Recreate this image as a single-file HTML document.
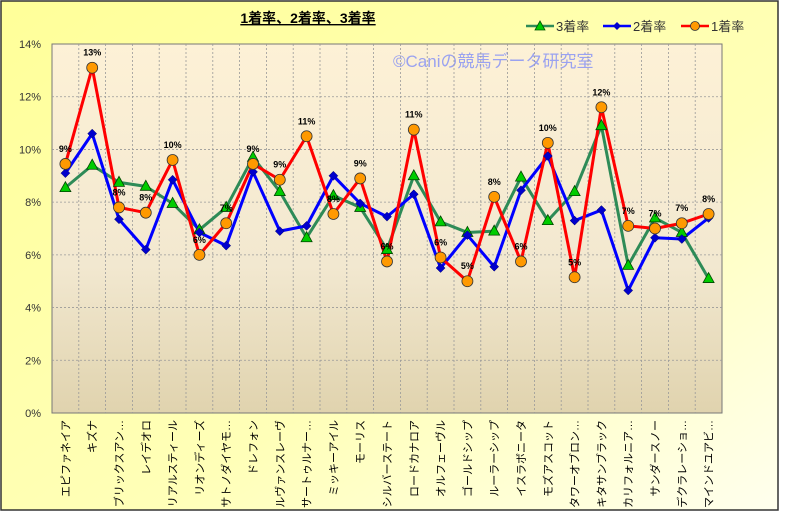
<!DOCTYPE html>
<html><head><meta charset="utf-8">
<style>
html,body{margin:0;padding:0;background:#fff;}
svg{display:block;font-family:"Liberation Sans","Noto Sans CJK JP",sans-serif;}
</style></head>
<body>
<svg id="chart" width="785" height="513" viewBox="0 0 785 513" xmlns="http://www.w3.org/2000/svg">
<defs>
<linearGradient id="bgOuter" x1="0" y1="0" x2="1" y2="1">
<stop offset="0" stop-color="#ffff99"/><stop offset="0.6" stop-color="#ffffb8"/><stop offset="1" stop-color="#ffffee"/>
</linearGradient>
<linearGradient id="bgPlot" x1="0" y1="0" x2="0" y2="1">
<stop offset="0" stop-color="#fdf1d6"/><stop offset="0.6" stop-color="#f2e8d0"/><stop offset="1" stop-color="#e0d3ae"/>
</linearGradient>
</defs>
<rect x="1" y="1" width="777" height="509" fill="url(#bgOuter)" stroke="#333" stroke-width="1.5"/>
<rect x="52" y="44" width="670" height="369" fill="url(#bgPlot)" stroke="#777" stroke-width="1"/>
<text x="308" y="23" text-anchor="middle" font-size="14" font-weight="bold" text-decoration="underline" fill="#000">1着率、2着率、3着率</text>
<text x="393" y="67" font-size="17" fill="#9aa2f0">©Caniの競馬データ研究室</text>
<g id="grid"></g>
<g id="axes"></g>
<g id="series"></g>
<g id="legend">
<g>
<line x1="526" y1="26" x2="554" y2="26" stroke="#2e8b57" stroke-width="2.5"/>
<polygon points="540,21 545,30 535,30" fill="#00cc00" stroke="#005500" stroke-width="0.8"/>
<text x="556" y="31" font-size="13" fill="#333">3着率</text></g>
<g>
<line x1="603" y1="26" x2="631" y2="26" stroke="#0000ff" stroke-width="2.5"/>
<polygon points="617,22 621,26 617,30 613,26" fill="#0000cc"/>
<text x="633" y="31" font-size="13" fill="#333">2着率</text></g>
<g>
<line x1="681" y1="26" x2="709" y2="26" stroke="#ff0000" stroke-width="2.5"/>
<circle cx="695" cy="26" r="4.5" fill="#ff9900" stroke="#333" stroke-width="0.8"/>
<text x="711" y="31" font-size="13" fill="#333">1着率</text></g>
</g>
</svg>
<script>
const categories = ["エピファネイア","キズナ","ブリックスアン…","レイデオロ","リアルスティール","リオンディーズ","サトノダイヤモ…","ドレフォン","ルヴァンスレーヴ","サートゥルナー…","ミッキーアイル","モーリス","シルバーステート","ロードカナロア","オルフェーヴル","ゴールドシップ","ルーラーシップ","イスラボニータ","モズアスコット","タワーオブロン…","キタサンブラック","カリフォルニア…","サンダースノー","デクラレーショ…","マインドユアビ…"];
const rate1 = [9.45,13.1,7.8,7.6,9.6,6.0,7.2,9.45,8.85,10.5,7.55,8.9,5.75,10.75,5.9,5.0,8.2,5.75,10.25,5.15,11.6,7.1,7.0,7.2,7.55];
const rate2 = [9.1,10.6,7.35,6.2,8.85,6.85,6.35,9.15,6.9,7.1,9.0,7.95,7.45,8.3,5.5,6.75,5.55,8.45,9.75,7.3,7.7,4.65,6.65,6.6,7.4];
const rate3 = [8.55,9.4,8.75,8.6,7.95,6.95,7.8,9.7,8.4,6.65,8.25,7.8,6.2,9.0,7.25,6.85,6.9,8.95,7.3,8.4,10.9,5.6,7.4,6.85,5.1];
const yTicks = [0,2,4,6,8,10,12,14];

const NS="http://www.w3.org/2000/svg";
const PL=52,PR=722,PT=44,PB=413,YMAX=14;
const bw=(PR-PL)/categories.length;
const xS=i=>PL+bw*(i+0.5);
const yS=v=>PB-(v/YMAX)*(PB-PT);
function mk(tag,attrs,parent){const e=document.createElementNS(NS,tag);for(const k in attrs)e.setAttribute(k,attrs[k]);parent.appendChild(e);return e;}
const grid=document.getElementById('grid'),axes=document.getElementById('axes'),ser=document.getElementById('series');

yTicks.forEach(t=>{
  if(t>0&&t<YMAX){const l=mk('line',{x1:PL,x2:PR,y1:yS(t),y2:yS(t),stroke:'#999','stroke-dasharray':'2,2','stroke-width':0.8},grid);
  
  }
  const tx=mk('text',{x:41,y:yS(t)+4,'text-anchor':'end','font-size':11,fill:'#333'},axes);
  tx.textContent=t+'%';
  
  
});
categories.forEach((c,i)=>{
  if(i>0){const l=mk('line',{x1:PL+bw*i,x2:PL+bw*i,y1:PT,y2:PB,stroke:'#999','stroke-dasharray':'2,2','stroke-width':0.8},grid);
  
  }
  const x=xS(i),y=420;
  const tx=mk('text',{x:x+4,y:y,'text-anchor':'end','font-size':11,fill:'#000',transform:`rotate(-90 ${x+4} ${y})`},axes);
  tx.textContent=c;
  
  
});

function drawLine(vals,color,name){
  const p=mk('polyline',{points:vals.map((v,i)=>xS(i)+','+yS(v)).join(' '),fill:'none',stroke:color,'stroke-width':3,'stroke-linejoin':'round'},ser);
  
  
}
drawLine(rate3,'#2e8b57','rate3');
drawLine(rate2,'#0000ff','rate2');
drawLine(rate1,'#ff0000','rate1');

rate3.forEach((v,i)=>{const x=xS(i),y=yS(v);
  const m=mk('polygon',{points:`${x},${y-6} ${x+5.5},${y+4} ${x-5.5},${y+4}`,fill:'#00cc00',stroke:'#004400','stroke-width':0.8},ser);
  
  });
rate2.forEach((v,i)=>{const x=xS(i),y=yS(v);
  const m=mk('polygon',{points:`${x},${y-4.5} ${x+4.5},${y} ${x},${y+4.5} ${x-4.5},${y}`,fill:'#0000cc',stroke:'#000066','stroke-width':0.5},ser);
  
  });
rate1.forEach((v,i)=>{const x=xS(i),y=yS(v);
  const m=mk('circle',{cx:x,cy:y,r:5.5,fill:'#ff9900',stroke:'#333','stroke-width':0.8},ser);
  
  
  const t=mk('text',{x:x,y:y-12,'text-anchor':'middle','font-size':9,'font-weight':'bold',fill:'#000'},ser);
  t.textContent=Math.round(v)+'%';
  
  });
</script>
</body></html>
